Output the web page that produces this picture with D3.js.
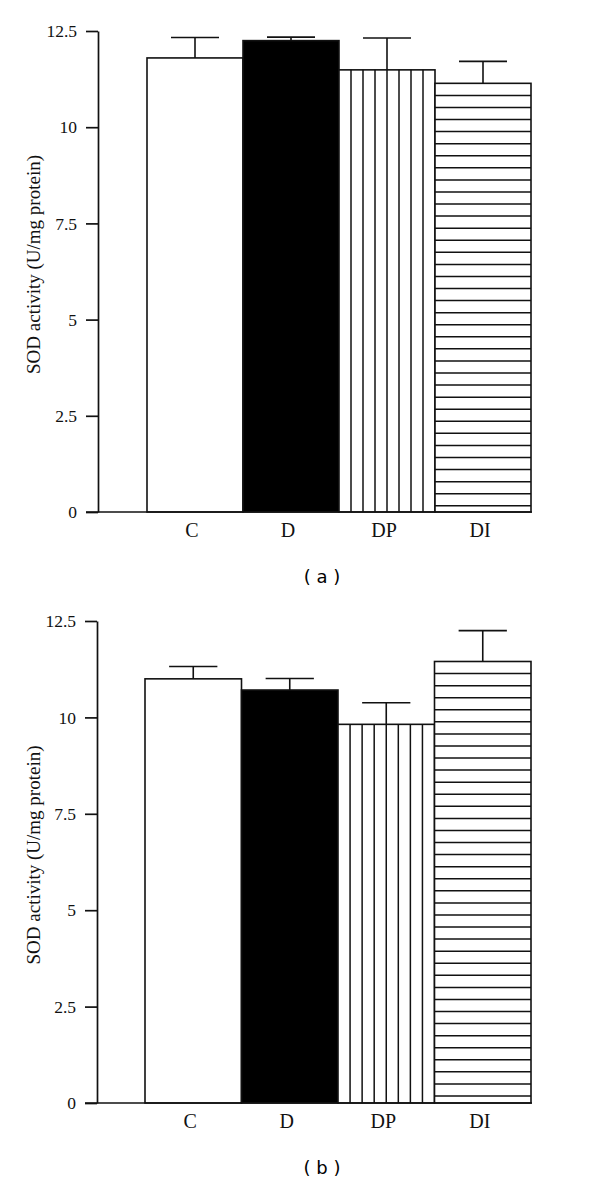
<!DOCTYPE html>
<html>
<head>
<meta charset="utf-8">
<script src="https://cdn.jsdelivr.net/npm/d3@7"></script>
<style>
  html, body { margin: 0; padding: 0; background: #fff; }
  svg { display: block; }
</style>
</head>
<body>
<script>
// ---- data ----
const categories = ["C", "D", "DP", "DI"];
const patterns = ["none", "solid", "vertical", "horizontal"];
const valuesA = [11.80, 12.25, 11.49, 11.14];
const errorsA = [0.53, 0.09, 0.83, 0.57];
const valuesB = [11.00, 10.71, 9.82, 11.45];
const errorsB = [0.32, 0.30, 0.56, 0.80];
const tickValues = [0, 2.5, 5, 7.5, 10, 12.5];
const tickLabels = ["0", "2.5", "5", "7.5", "10", "12.5"];
const yLabel = "SOD activity (U/mg protein)";
const panelLabels = ["( a )", "( b )"];

const W = 600, H = 1183;
const svg = d3.select("body").append("svg").attr("width", W).attr("height", H);

const serif = "'Liberation Serif', 'Times New Roman', serif";
const sans = "'DejaVu Sans', sans-serif";
const ink = "#111";

const panels = [
  { values: valuesA, errors: errorsA, label: panelLabels[0],
    y0: 512, y1: 31, axisX: 98, bandL: 147, bandR: 531, catY: 537, capY: 583 },
  { values: valuesB, errors: errorsB, label: panelLabels[1],
    y0: 1103, y1: 621, axisX: 97, bandL: 145, bandR: 531, catY: 1128, capY: 1174 }
];

panels.forEach(p => {
  const g = svg.append("g");
  const y = d3.scaleLinear().domain([0, 12.5]).range([p.y0, p.y1]);
  const x = d3.scaleBand().domain(categories).range([p.bandL, p.bandR]).paddingInner(0).paddingOuter(0);
  const bw = x.bandwidth();
  const data = categories.map((c, i) => ({ c, v: p.values[i], e: p.errors[i], pat: patterns[i] }));

  // bars
  g.selectAll("rect.bar").data(data).enter().append("rect")
    .attr("x", d => x(d.c))
    .attr("y", d => y(d.v))
    .attr("width", bw)
    .attr("height", d => y(0) - y(d.v))
    .attr("fill", d => d.pat === "solid" ? "#000" : "#fff")
    .attr("stroke", ink)
    .attr("stroke-width", 1.6);

  // hatch lines
  data.forEach(d => {
    if (d.pat === "vertical") {
      const n = 8;
      g.selectAll(null).data(d3.range(1, n)).enter().append("line")
        .attr("x1", k => x(d.c) + k * bw / n)
        .attr("x2", k => x(d.c) + k * bw / n)
        .attr("y1", y(d.v)).attr("y2", y(0))
        .attr("stroke", ink).attr("stroke-width", 1.5);
    } else if (d.pat === "horizontal") {
      const step = 12.07;
      const top = y(d.v), bot = y(0);
      const ks = d3.range(1, Math.floor((bot - top - 2) / step) + 1);
      g.selectAll(null).data(ks).enter().append("line")
        .attr("x1", x(d.c)).attr("x2", x(d.c) + bw)
        .attr("y1", k => top + k * step).attr("y2", k => top + k * step)
        .attr("stroke", ink).attr("stroke-width", 1.5);
    }
  });

  // error bars (upper only)
  const capW = bw * 0.5;
  const eb = g.selectAll("g.err").data(data).enter().append("g");
  eb.append("line")
    .attr("x1", d => x(d.c) + bw / 2).attr("x2", d => x(d.c) + bw / 2)
    .attr("y1", d => y(d.v)).attr("y2", d => y(d.v + d.e))
    .attr("stroke", ink).attr("stroke-width", 1.6);
  eb.append("line")
    .attr("x1", d => x(d.c) + bw / 2 - capW / 2).attr("x2", d => x(d.c) + bw / 2 + capW / 2)
    .attr("y1", d => y(d.v + d.e)).attr("y2", d => y(d.v + d.e))
    .attr("stroke", ink).attr("stroke-width", 1.6);

  // y axis
  const yAxis = d3.axisLeft(y).tickValues(tickValues)
    .tickFormat((d, i) => tickLabels[i]).tickSize(12).tickSizeOuter(0).tickPadding(9);
  const ax = g.append("g").attr("transform", `translate(${p.axisX},0)`).call(yAxis);
  ax.select(".domain").attr("stroke", ink).attr("stroke-width", 1.7);
  ax.selectAll(".tick line").attr("stroke", ink).attr("stroke-width", 1.7);
  ax.selectAll(".tick text").attr("font-family", serif).attr("font-size", 17.5).attr("fill", ink);

  // x axis baseline
  g.append("line")
    .attr("x1", p.axisX - 12).attr("x2", p.bandR + 1)
    .attr("y1", y(0)).attr("y2", y(0))
    .attr("stroke", ink).attr("stroke-width", 1.7);

  // category labels
  g.selectAll("text.cat").data(data).enter().append("text")
    .attr("x", d => x(d.c) + bw / 2 - 3)
    .attr("y", p.catY)
    .attr("text-anchor", "middle")
    .attr("font-family", serif).attr("font-size", 20).attr("fill", ink)
    .text(d => d.c);

  // y label
  g.append("text")
    .attr("transform", `translate(40,${(p.y0 + p.y1) / 2 - 7}) rotate(-90)`)
    .attr("text-anchor", "middle")
    .attr("font-family", serif).attr("font-size", 19).attr("fill", ink)
    .text(yLabel);

  // panel label
  g.append("text")
    .attr("x", 322).attr("y", p.capY)
    .attr("text-anchor", "middle")
    .attr("font-family", sans).attr("font-size", 18).attr("fill", "#000")
    .attr("xml:space", "preserve")
    .style("white-space", "pre")
    .text(p.label);
});
</script>
</body>
</html>
